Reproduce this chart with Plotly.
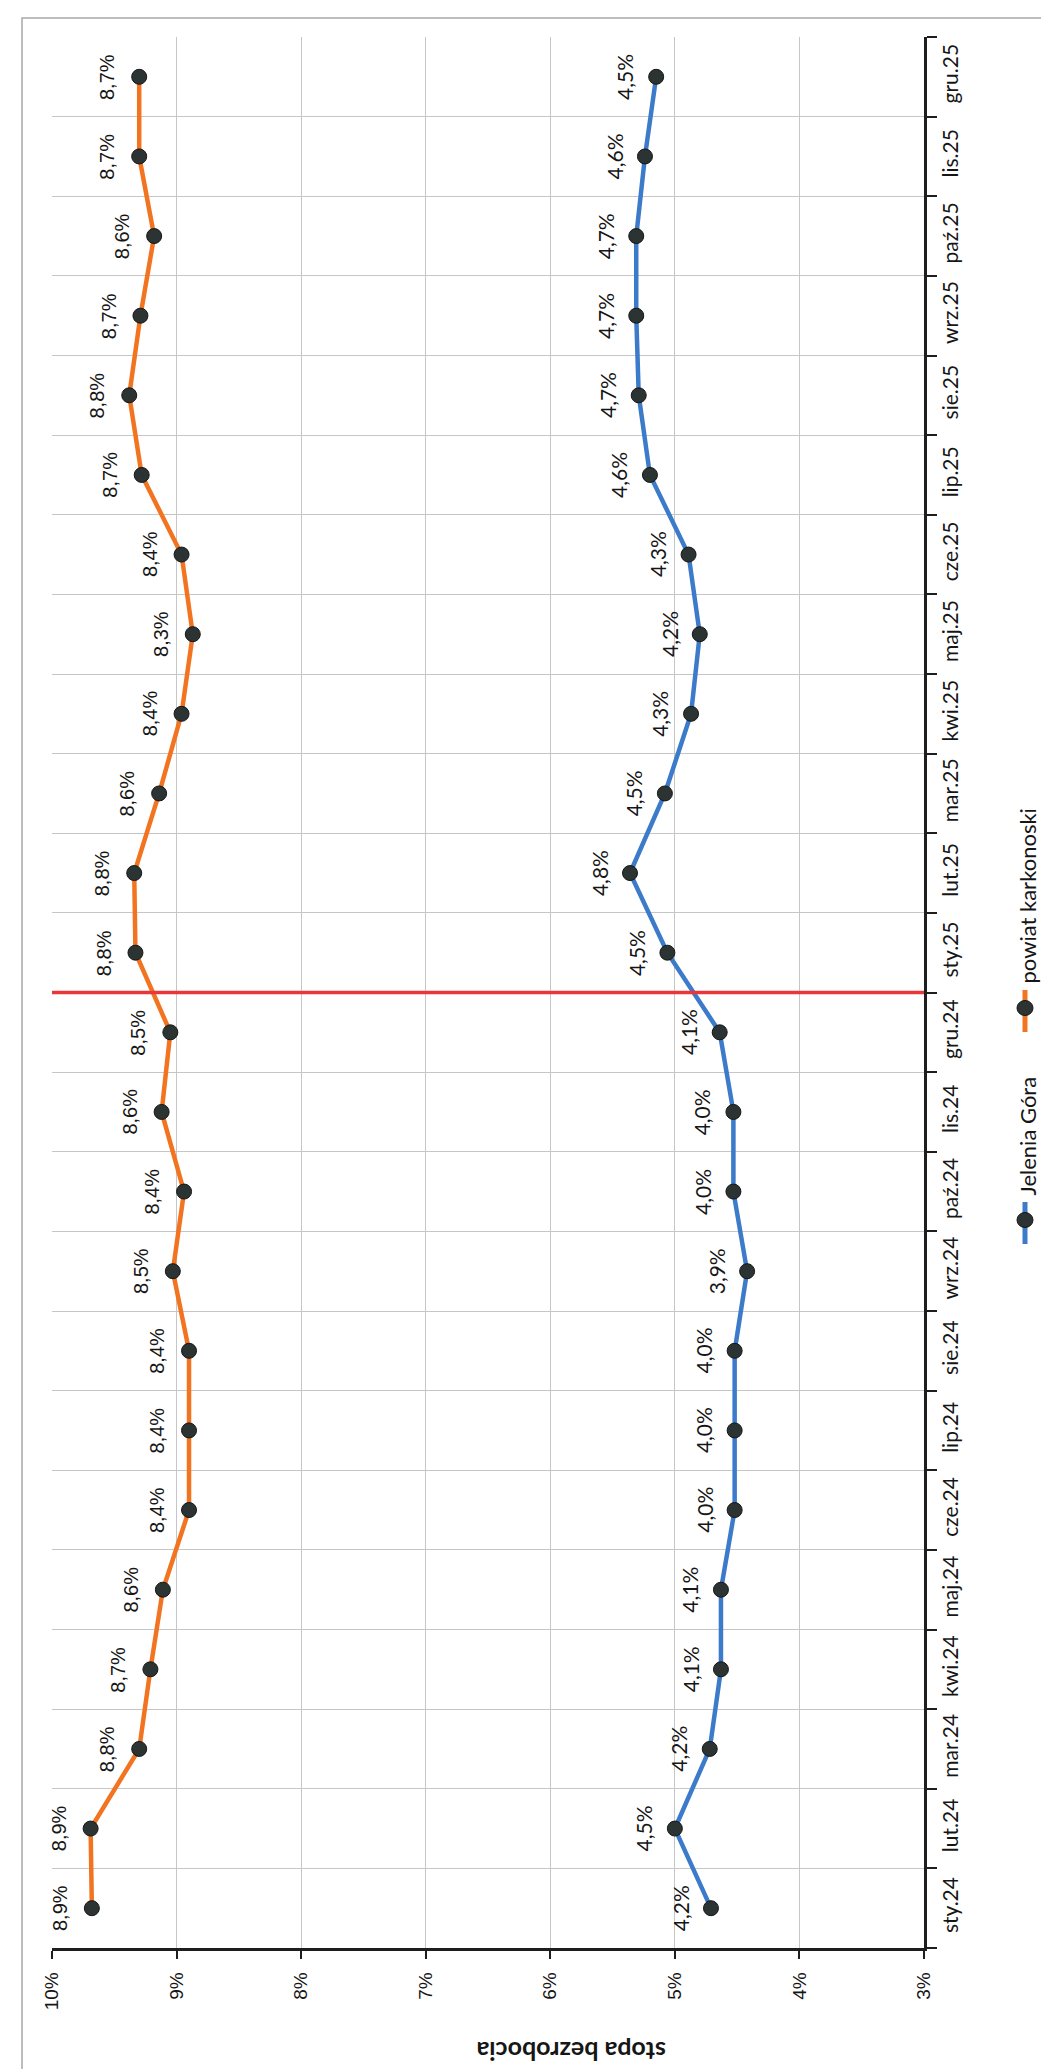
import plotly.graph_objects as go

# ---------------- data ----------------
categories = ["sty.24", "lut.24", "mar.24", "kwi.24", "maj.24", "cze.24", "lip.24", "sie.24",
              "wrz.24", "paź.24", "lis.24", "gru.24", "sty.25", "lut.25", "mar.25", "kwi.25",
              "maj.25", "cze.25", "lip.25", "sie.25", "wrz.25", "paź.25", "lis.25", "gru.25"]

# plotted positions (value axis, %)
karkonoski_values = [9.68, 9.69, 9.30, 9.21, 9.11, 8.90, 8.90, 8.90, 9.03, 8.94, 9.12, 9.05,
                     9.33, 9.34, 9.14, 8.96, 8.87, 8.96, 9.28, 9.38, 9.29, 9.18, 9.30, 9.30]
jelenia_values = [4.71, 5.00, 4.72, 4.63, 4.63, 4.52, 4.52, 4.52, 4.42, 4.53, 4.53, 4.64,
                  5.06, 5.36, 5.08, 4.87, 4.80, 4.89, 5.20, 5.29, 5.31, 5.31, 5.24, 5.15]

# data labels as printed in the picture
karkonoski_labels = ["8,9%", "8,9%", "8,8%", "8,7%", "8,6%", "8,4%", "8,4%", "8,4%", "8,5%", "8,4%", "8,6%", "8,5%",
                     "8,8%", "8,8%", "8,6%", "8,4%", "8,3%", "8,4%", "8,7%", "8,8%", "8,7%", "8,6%", "8,7%", "8,7%"]
jelenia_labels = ["4,2%", "4,5%", "4,2%", "4,1%", "4,1%", "4,0%", "4,0%", "4,0%", "3,9%", "4,0%", "4,0%", "4,1%",
                  "4,5%", "4,8%", "4,5%", "4,3%", "4,2%", "4,3%", "4,6%", "4,7%", "4,7%", "4,7%", "4,6%", "4,5%"]

value_ticks = [10, 9, 8, 7, 6, 5, 4, 3]
value_tick_labels = ["10%", "9%", "8%", "7%", "6%", "5%", "4%", "3%"]

series_names = ["Jelenia Góra", "powiat karkonoski"]
axis_title = "stopa bezrobocia"
year_break = "sty.25"  # red separator placed just before this category

# ---------------- styling ----------------
W, H = 1049, 2069
L, R, T, B = 44, 133, 29, 129
PW, PH = W - L - R, H - T - B

ORANGE = "#F27420"
BLUE = "#3C7BCA"
MARK = "#2B3333"
GRID = "#C6C6C6"
AXIS = "#1E1E1E"


def px_x(px):
    return (px - L) / PW


def px_y(py):
    return 1 - (py - T) / PH


fig = go.Figure()

marker_style = dict(size=15, color=MARK, line=dict(color="#161616", width=1))
fig.add_trace(go.Scatter(x=karkonoski_values, y=categories, mode="lines+markers",
                         name=series_names[1], line=dict(color=ORANGE, width=4.5),
                         marker=marker_style, showlegend=False, cliponaxis=False))
fig.add_trace(go.Scatter(x=jelenia_values, y=categories, mode="lines+markers",
                         name=series_names[0], line=dict(color=BLUE, width=4.5),
                         marker=marker_style, showlegend=False, cliponaxis=False))

# data labels (rotated like the picture)
for c, v, t in zip(categories, karkonoski_values, karkonoski_labels):
    fig.add_annotation(x=v, y=c, text=t, textangle=-90, showarrow=False, xshift=-32,
                       font=dict(family="Liberation Sans, Arial, sans-serif", size=20, color="#161616"))
for c, v, t in zip(categories, jelenia_values, jelenia_labels):
    fig.add_annotation(x=v, y=c, text=t, textangle=-90, showarrow=False, xshift=-31,
                       font=dict(family="Lato, Open Sans, sans-serif", size=21, color="#161616"))

# axis title (upside down in the picture)
fig.add_annotation(xref="paper", yref="paper", x=px_x(563), y=px_y(2044), text=axis_title,
                   textangle=180, showarrow=False, xanchor="center", yanchor="middle",
                   font=dict(family="Lato, sans-serif", size=25, color="#161616", weight="bold"))

# red separator line between years
sep = categories.index(year_break) - 0.5
fig.add_shape(type="line", xref="paper", yref="y", x0=0, x1=1, y0=sep, y1=sep,
              line=dict(color="#E8363B", width=3.5))

# outer frame
fig.add_shape(type="rect", xref="paper", yref="paper",
              x0=px_x(14), x1=px_x(1044), y0=px_y(10), y1=px_y(2062),
              line=dict(color="#A8A8A8", width=1.5), layer="below")

# manual rotated legend
legend_items = [(series_names[1], ORANGE, 1000), (series_names[0], BLUE, 1212)]
lx = 1017
for name, col, my in legend_items:
    fig.add_shape(type="line", xref="paper", yref="paper", x0=px_x(lx), x1=px_x(lx),
                  y0=px_y(my - 18), y1=px_y(my + 24), line=dict(color=col, width=5))
    fig.add_shape(type="circle", xref="paper", yref="paper",
                  x0=px_x(lx - 8), x1=px_x(lx + 8), y0=px_y(my - 7.5), y1=px_y(my + 7.5),
                  fillcolor=MARK, line=dict(color="#161616", width=1))
    fig.add_annotation(xref="paper", yref="paper", x=px_x(lx + 2), y=px_y(my - 22),
                       text=name, textangle=-90, showarrow=False, xanchor="center", yanchor="bottom",
                       font=dict(family="Lato, sans-serif", size=22, color="#161616"))

fig.update_layout(
    width=W, height=H,
    margin=dict(l=L, r=R, t=T, b=B),
    paper_bgcolor="white", plot_bgcolor="white",
    showlegend=False,
    xaxis=dict(range=[10, 3], tickvals=value_ticks, ticktext=value_tick_labels, tickangle=-90,
               showgrid=True, gridcolor=GRID, gridwidth=1.2, zeroline=False,
               showline=True, linecolor=AXIS, linewidth=2.5,
               ticks="outside", ticklen=8, tickwidth=2, tickcolor=AXIS,
               ticklabelstandoff=6,
               tickfont=dict(family="Liberation Sans, Arial, sans-serif", size=19, color="#161616")),
    yaxis=dict(type="category", categoryorder="array", categoryarray=categories,
               range=[-0.5, len(categories) - 0.5], side="right", tickson="boundaries",
               showgrid=True, gridcolor=GRID, gridwidth=1.2, zeroline=False,
               showline=True, linecolor=AXIS, linewidth=2.5,
               ticks="outside", ticklen=10, tickwidth=2, tickcolor=AXIS,
               tickangle=-90, ticklabelstandoff=6,
               tickfont=dict(family="Lato, sans-serif", size=21, color="#161616")),
)

fig.write_html("out.html")
